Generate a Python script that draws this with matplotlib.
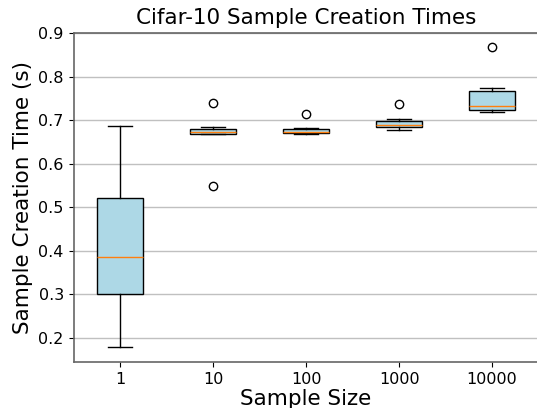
import matplotlib
matplotlib.use('Agg')
import matplotlib.pyplot as plt

# sample sizes on the x axis
SAMPLE_SIZES = ['1', '10', '100', '1000', '10000']

# box statistics (seconds)
MEDIANS = [0.385, 0.674, 0.672, 0.688, 0.733]
Q1 = [0.301, 0.669, 0.670, 0.684, 0.723]
Q3 = [0.522, 0.679, 0.679, 0.698, 0.767]
WHISKER_LOW = [0.179, 0.669, 0.669, 0.677, 0.719]
WHISKER_HIGH = [0.687, 0.684, 0.682, 0.703, 0.773]
FLIERS = [[], [0.740, 0.549], [0.714], [0.737], [0.867]]


def createGraph():
    stats = []
    for i, name in enumerate(SAMPLE_SIZES):
        stats.append({
            'label': name,
            'med': MEDIANS[i],
            'q1': Q1[i],
            'q3': Q3[i],
            'whislo': WHISKER_LOW[i],
            'whishi': WHISKER_HIGH[i],
            'fliers': FLIERS[i],
        })

    fig = plt.figure(figsize=(5.37, 4.08), dpi=100)
    ax = fig.add_axes([0.137, 0.113, 0.866, 0.807])

    ax.bxp(stats, patch_artist=True,
           boxprops=dict(facecolor='lightblue', edgecolor='black'),
           medianprops=dict(color='#ff7f0e'))

    ax.yaxis.grid(True, color='#c0c0c0', linewidth=1)
    ax.set_axisbelow(True)
    ax.set_ylim(0.145, 0.901)

    for side in ['left', 'bottom', 'top']:
        ax.spines[side].set_color('#666666')
        ax.spines[side].set_linewidth(1.2)
    ax.spines['right'].set_visible(False)

    ax.tick_params(labelsize=11.5)
    ax.set_title('Cifar-10 Sample Creation Times', fontsize=15.5)
    ax.set_xlabel('Sample Size', fontsize=15.5, labelpad=2)
    ax.set_ylabel('Sample Creation Time (s)', fontsize=15.5)

    plt.savefig('out.png', dpi=100)


def main():
    createGraph()


if __name__ == '__main__':
    main()
